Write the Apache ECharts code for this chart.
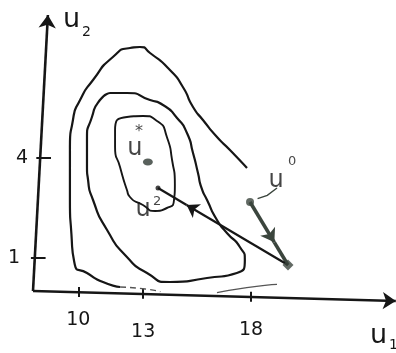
<!DOCTYPE html>
<html><head><meta charset="utf-8">
<script src="https://cdn.jsdelivr.net/npm/echarts@6/dist/echarts.min.js"></script>
<style>html,body{margin:0;padding:0;background:#fff}#c{width:396px;height:353px}</style>
</head><body><div id="c"></div>
<script>
// Level curves of the objective in the (u1, u2) plane
const outerLevel = [[17.81,3.69],[17.02,4.23],[16.42,4.62],[15.77,5.13],[15.31,5.52],[14.84,6.12],[14.24,6.63],[13.32,7.14],[12.85,7.32],[12.39,7.29],[11.60,7.02],[10.68,6.33],[10.08,5.73],[9.75,5.13],[9.61,4.32],[9.61,2.73],[9.68,1.70],[9.84,0.78],[10.40,0.54],[11.14,0.27],[11.93,0.12]];
const outerTailA = [[11.93,0.12],[13.10,0.06],[13.80,-0.02]];
const outerTailB = [[16.42,-0.05],[17.80,0.10],[19.20,0.20]];
const middleLevel = [[11.46,5.94],[12.25,5.94],[13.32,5.73],[13.92,5.58],[14.57,5.19],[15.03,4.74],[15.31,4.14],[15.54,3.54],[15.70,3.10],[15.96,2.73],[16.42,2.13],[16.88,1.74],[17.48,1.32],[17.71,0.93],[17.34,0.54],[15.96,0.39],[14.24,0.27],[13.18,0.54],[12.25,1.02],[11.33,1.83],[10.68,2.73],[10.45,3.33],[10.40,3.72],[10.40,4.53],[10.63,5.22],[11.00,5.73],[11.46,5.94]];
const innerLevel = [[11.79,5.13],[12.25,5.22],[12.99,5.25],[13.64,5.10],[14.10,4.62],[14.34,3.93],[14.47,3.18],[14.43,2.73],[14.10,2.49],[13.55,2.40],[12.99,2.58],[12.39,2.82],[12.25,3.03],[11.93,3.72],[11.70,4.32],[11.70,4.83],[11.79,5.13]];

// Iterates: optimum, start, corner of the first step, second iterate
const uStar = [13.22,3.87];
const uZero = [17.95,2.67];
const uTurn = [19.71,0.78];
const uTwo = [13.69,3.09];

// Axes (hand-ruled, slightly slanted) and their tick values
const u1Axis = [[7.9,0],[24.7,-0.30]];
const u2Axis = [[7.9,0],[8.59,8.28]];
const xTicks = [10,13,18];
const yTicks = [1,4];

const ink = '#161616';
const stepInk = '#3b453d';
const lerp = (a, b, t) => [a[0] + (b[0]-a[0])*t, a[1] + (b[1]-a[1])*t];
const axisYAt = x => lerp(u1Axis[0], u1Axis[1], (x - u1Axis[0][0])/(u1Axis[1][0]-u1Axis[0][0]))[1];
const axisXAt = y => lerp(u2Axis[0], u2Axis[1], (y - u2Axis[0][1])/(u2Axis[1][1]-u2Axis[0][1]))[0];

const tickSegs = xTicks.map(t => ({coords: [[t, axisYAt(t)-0.14],[t, axisYAt(t)+0.16]]}))
  .concat(yTicks.map(t => ({coords: [[axisXAt(t)-0.18, t],[axisXAt(t)+0.5, t]]})));

const stepOneMid = lerp(uZero, uTurn, 0.64);
const stepTwoMid = lerp(uTurn, uTwo, 0.78);
// little pointer from the u0 name to its point
const pointer = [[uZero[0]+1.25, uZero[1]+0.42],[uZero[0]+0.8, uZero[1]+0.2],[uZero[0]+0.35, uZero[1]+0.1]];

const curve = (data, extra) => Object.assign({
  type: 'line', data, smooth: 0.7, symbol: 'none', silent: true, clip: false,
  lineStyle: {color: ink, width: 2.2}
}, extra || {});

const chart = echarts.init(document.getElementById('c'), null, {renderer: 'canvas'});
chart.setOption({
  animation: false,
  backgroundColor: '#fff',
  grid: {left: 33, right: 0, top: 0, bottom: 62},
  xAxis: {
    type: 'value', min: 7.9, max: 24.71,
    axisLine: {show: false}, axisTick: {show: false}, splitLine: {show: false},
    axisLabel: {
      customValues: xTicks, margin: 18, color: ink, fontSize: 19,
      fontFamily: 'DejaVu Sans',
      formatter: v => '{t' + v + '|' + v + '}',
      rich: {
        t10: {color: ink, fontSize: 19, padding: [2,0,0,0]},
        t13: {color: ink, fontSize: 19, padding: [14,0,0,0]},
        t18: {color: ink, fontSize: 19, padding: [12,0,0,0]}
      }
    }
  },
  yAxis: {
    type: 'value', min: 0, max: 8.73,
    axisLine: {show: false}, axisTick: {show: false}, splitLine: {show: false},
    axisLabel: {
      customValues: yTicks, margin: 5, color: ink, fontSize: 19,
      fontFamily: 'DejaVu Sans',
      formatter: v => '{y' + v + '|' + v + '}',
      rich: {
        y1: {color: ink, fontSize: 19, padding: [0,8,0,0]},
        y4: {color: ink, fontSize: 19, padding: [0,0,0,0]}
      }
    }
  },
  graphic: [
    {type: 'text', left: 63, top: 6, style: {text: 'u', fontSize: 27, fontFamily: 'DejaVu Sans', fill: ink}},
    {type: 'text', left: 82, top: 25, style: {text: '2', fontSize: 14, fontFamily: 'DejaVu Sans', fill: ink}},
    {type: 'text', left: 370, top: 322, style: {text: 'u', fontSize: 27, fontFamily: 'DejaVu Sans', fill: ink}},
    {type: 'text', left: 389, top: 338, style: {text: '1', fontSize: 14, fontFamily: 'DejaVu Sans', fill: ink}}
  ],
  series: [
    curve(outerLevel),
    curve(outerTailA, {lineStyle: {color: '#555', width: 1.3, type: [6, 4]}}),
    curve(outerTailB, {lineStyle: {color: '#555', width: 1.3}}),
    curve(middleLevel),
    curve(innerLevel, {lineStyle: {color: ink, width: 1.9}}),
    {
      type: 'lines', coordinateSystem: 'cartesian2d', silent: true, clip: false,
      symbol: ['none', 'arrow'], symbolSize: 13,
      lineStyle: {color: ink, width: 2.6, opacity: 1},
      data: [{coords: u1Axis}, {coords: u2Axis}]
    },
    {
      type: 'lines', coordinateSystem: 'cartesian2d', silent: true, clip: false,
      symbol: 'none', lineStyle: {color: ink, width: 2, opacity: 1},
      data: tickSegs
    },
    {
      // first step: u0 -> corner
      type: 'lines', coordinateSystem: 'cartesian2d', silent: true, clip: false,
      symbol: ['none', 'arrow'], symbolSize: 13,
      lineStyle: {color: stepInk, width: 3.6, opacity: 1},
      data: [{coords: [uZero, stepOneMid]}, {coords: [stepOneMid, uTurn], symbol: 'none'}]
    },
    {
      // second step: corner -> u2
      type: 'lines', coordinateSystem: 'cartesian2d', silent: true, clip: false,
      symbol: ['none', 'arrow'], symbolSize: 12,
      lineStyle: {color: ink, width: 2.2, opacity: 1},
      data: [{coords: [uTurn, stepTwoMid]}, {coords: [stepTwoMid, uTwo], symbol: 'none'}]
    },
    {
      type: 'lines', coordinateSystem: 'cartesian2d', silent: true, clip: false, polyline: true,
      symbol: ['none', 'arrow'], symbolSize: 7,
      lineStyle: {color: stepInk, width: 1.4, opacity: 1, curveness: 0},
      data: [{coords: pointer}]
    },
    {
      type: 'scatter', silent: true, clip: false,
      data: [
        {value: uStar, symbol: 'circle', symbolSize: [10, 7], itemStyle: {color: '#2f3a33'}},
        {value: uTwo, symbol: 'circle', symbolSize: 5, itemStyle: {color: ink}},
        {value: uZero, symbol: 'circle', symbolSize: 8, itemStyle: {color: stepInk}},
        {value: uTurn, symbol: 'diamond', symbolSize: 11, itemStyle: {color: stepInk}}
      ]
    },
    {
      // point names: base letter
      type: 'scatter', silent: true, symbolSize: 0, clip: false,
      label: {show: true, position: 'inside', color: ink, fontSize: 24, fontFamily: 'DejaVu Sans', formatter: 'u'},
      data: [
        {value: uStar, label: {offset: [-13, -13]}},
        {value: uTwo, label: {offset: [-15, 22]}},
        {value: uZero, label: {offset: [26, -21]}}
      ]
    },
    {
      // point names: superscripts
      type: 'scatter', silent: true, symbolSize: 0, clip: false,
      label: {show: true, position: 'inside', color: ink, fontSize: 13, fontFamily: 'DejaVu Sans', formatter: p => p.name},
      data: [
        {name: '*', value: uStar, label: {offset: [-9, -30], fontSize: 16}},
        {name: '2', value: uTwo, label: {offset: [-1, 14]}},
        {name: '0', value: uZero, label: {offset: [42, -40]}}
      ]
    }
  ]
});
</script>
</body></html>
